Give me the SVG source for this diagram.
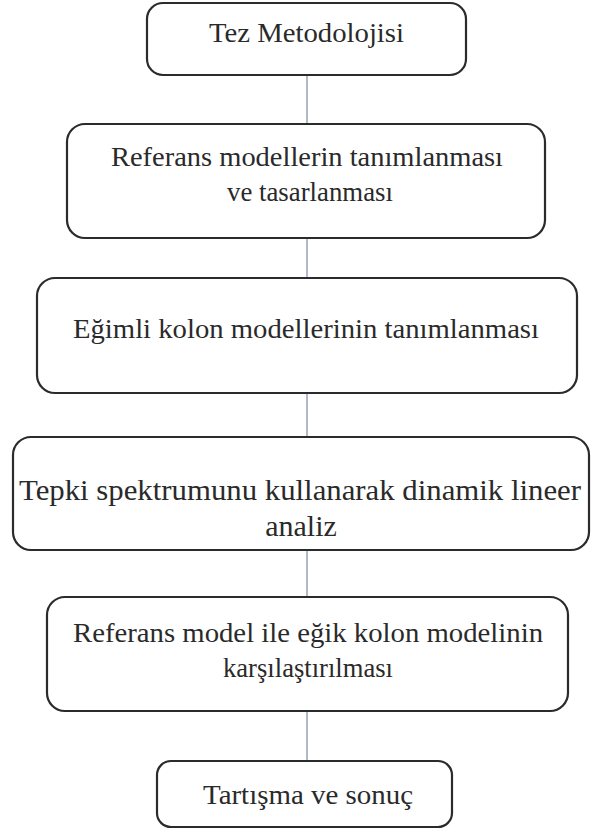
<svg xmlns="http://www.w3.org/2000/svg" width="594" height="832" viewBox="0 0 594 832">
<style>
.box{fill:#fff;stroke:#2b2b2b;stroke-width:2.2}
.t{font-family:"Liberation Serif","Times New Roman","DejaVu Serif",serif;font-size:28px;fill:#2a2a2a;text-anchor:middle}
.c{stroke:#7d8aa3;stroke-width:1.2;fill:none}
</style>
<rect width="594" height="832" fill="#fff"/>
<g id="connectors">
<line class="c" x1="307" y1="75" x2="307" y2="124"/>
<line class="c" x1="307" y1="238" x2="307" y2="278"/>
<line class="c" x1="307" y1="393" x2="307" y2="437"/>
<line class="c" x1="307" y1="550" x2="307" y2="597"/>
<line class="c" x1="307" y1="711" x2="307" y2="761"/>
</g>
<g id="n1"><rect class="box" x="147" y="3" width="319" height="72" rx="16"/><text class="t" x="306.5" y="42" textLength="195" lengthAdjust="spacingAndGlyphs">Tez Metodolojisi</text></g>
<g id="n2"><rect class="box" x="67" y="124" width="478" height="114" rx="18"/><text class="t" x="307" y="166" textLength="392" lengthAdjust="spacingAndGlyphs">Referans modellerin tanımlanması</text><text class="t" x="310" y="201" textLength="166" lengthAdjust="spacingAndGlyphs">ve tasarlanması</text></g>
<g id="n3"><rect class="box" x="37" y="278" width="540" height="115" rx="18"/><text class="t" x="306" y="338" textLength="466" lengthAdjust="spacingAndGlyphs">Eğimli kolon modellerinin tanımlanması</text></g>
<g id="n4"><rect class="box" x="13" y="437" width="576" height="113" rx="18"/><text class="t" x="300" y="500" style="font-size:30px" textLength="562" lengthAdjust="spacingAndGlyphs">Tepki spektrumunu kullanarak dinamik lineer</text><text class="t" x="301" y="536" style="font-size:30px">analiz</text></g>
<g id="n5"><rect class="box" x="47" y="597" width="521" height="114" rx="18"/><text class="t" x="308" y="642" textLength="470" lengthAdjust="spacingAndGlyphs">Referans model ile eğik kolon modelinin</text><text class="t" x="308" y="677" textLength="170" lengthAdjust="spacingAndGlyphs">karşılaştırılması</text></g>
<g id="n6"><rect class="box" x="157" y="761" width="295" height="66" rx="14"/><text class="t" x="308" y="804" textLength="210" lengthAdjust="spacingAndGlyphs">Tartışma ve sonuç</text></g>
</svg>
